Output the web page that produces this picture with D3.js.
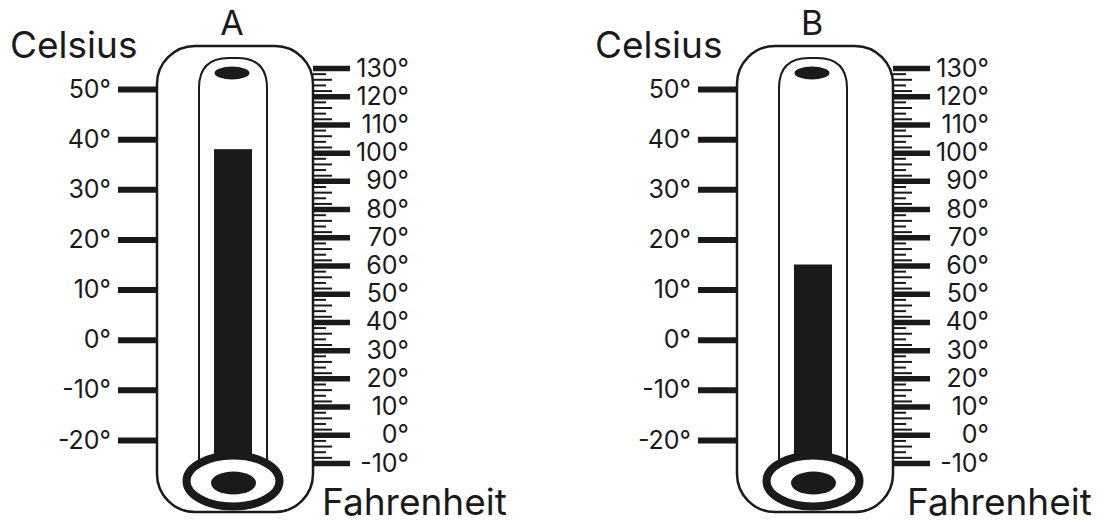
<!DOCTYPE html>
<html>
<head>
<meta charset="utf-8">
<script src="https://cdn.jsdelivr.net/npm/d3@7"></script>
<style>
  html, body { margin: 0; padding: 0; background: #fff; }
  svg { display: block; }
  text { font-family: Inter, "Noto Sans", sans-serif; fill: #1a1a1a; }
</style>
</head>
<body>
<script>
// ---- data ----
const thermometerNames = ["A", "B"];
const mercuryCelsius = [38, 15];
const celsiusTicks = [50, 40, 30, 20, 10, 0, -10, -20];
const fahrenheitTicks = [130, 120, 110, 100, 90, 80, 70, 60, 50, 40, 30, 20, 10, 0, -10];
const fahrenheitMinor = d3.range(-8, 130, 2).filter(v => v % 10 !== 0);
const celsiusTitle = "Celsius";
const fahrenheitTitle = "Fahrenheit";

// ---- layout ----
const W = 1099, H = 523;
const ink = "#1a1a1a";
const svg = d3.select("body").append("svg").attr("width", W).attr("height", H);

const yC = d3.scaleLinear().domain([-20, 50]).range([440, 89]);
const yF = d3.scaleLinear().domain([-10, 130]).range([463, 68]);

const panelX = d3.scaleOrdinal().domain(thermometerNames).range([0, 580]);
const titleShift = d3.scaleOrdinal().domain(thermometerNames).range([0, 5]);

const bodyL = 157, bodyR = 313, bodyT = 46, bodyB = 512;
const cx = 233;

thermometerNames.forEach((name, i) => {
  const g = svg.append("g").attr("transform", `translate(${panelX(name)},0)`);

  // titles
  g.append("text").attr("x", cx - 1).attr("y", 35).attr("text-anchor", "middle")
    .attr("font-size", 34).text(name);
  g.append("text").attr("x", 10 + titleShift(name)).attr("y", 58)
    .attr("font-size", 37).text(celsiusTitle);
  g.append("text").attr("x", 322 + titleShift(name)).attr("y", 515)
    .attr("font-size", 37).text(fahrenheitTitle);

  // outer body
  g.append("rect").attr("x", bodyL).attr("y", bodyT)
    .attr("width", bodyR - bodyL).attr("height", bodyB - bodyT)
    .attr("rx", 38).attr("ry", 38)
    .attr("fill", "#fff").attr("stroke", ink).attr("stroke-width", 2.5);

  // inner tube (open bottom)
  const tl = 199, tr = 267, tt = 58, tb = 470, r = 30;
  g.append("path")
    .attr("d", `M${tl},${tb} L${tl},${tt + r} Q${tl},${tt} ${tl + r},${tt} L${tr - r},${tt} Q${tr},${tt} ${tr},${tt + r} L${tr},${tb}`)
    .attr("fill", "none").attr("stroke", ink).attr("stroke-width", 2);

  // top ellipse
  g.append("ellipse").attr("cx", cx - 1).attr("cy", 73).attr("rx", 17.5).attr("ry", 6.5).attr("fill", ink);

  // mercury column
  const mTop = yC(mercuryCelsius[i]);
  g.append("rect").attr("x", 214).attr("y", mTop).attr("width", 38).attr("height", 475 - mTop).attr("fill", ink);

  // bulb ring
  g.append("ellipse").attr("cx", cx).attr("cy", 481).attr("rx", 46.5).attr("ry", 25.5)
    .attr("fill", "#fff").attr("stroke", ink).attr("stroke-width", 8);
  g.append("ellipse").attr("cx", cx + 0.5).attr("cy", 483).attr("rx", 22.5).attr("ry", 11.5).attr("fill", ink);

  // Celsius axis
  const cAxis = g.append("g").attr("transform", `translate(${bodyL},0)`)
    .call(d3.axisLeft(yC).tickValues(celsiusTicks).tickSize(39).tickPadding(7).tickFormat(d => d + "°"));
  cAxis.select(".domain").remove();
  cAxis.selectAll(".tick line").attr("stroke", ink).attr("stroke-width", 6);
  cAxis.selectAll(".tick text").attr("font-size", 25).attr("font-family", "Inter, sans-serif").attr("fill", ink);

  // Fahrenheit minor ticks
  const minorLen = v => { const k = ((v % 10) + 10) % 10; return (k === 2 || k === 6) ? 19 : 13; };
  const fMinor = g.append("g").attr("transform", `translate(${bodyR},0)`)
    .call(d3.axisRight(yF).tickValues(fahrenheitMinor).tickSize(0).tickFormat(""));
  fMinor.select(".domain").remove();
  fMinor.selectAll(".tick line").attr("x2", d => minorLen(d)).attr("stroke", ink).attr("stroke-width", 2);

  // Fahrenheit major axis
  const fAxis = g.append("g").attr("transform", `translate(${bodyR},0)`)
    .call(d3.axisRight(yF).tickValues(fahrenheitTicks).tickSize(37).tickPadding(0).tickFormat(d => d + "°"));
  fAxis.select(".domain").remove();
  fAxis.selectAll(".tick line").attr("stroke", ink).attr("stroke-width", 5.5);
  fAxis.selectAll(".tick text").attr("font-size", 25).attr("font-family", "Inter, sans-serif")
    .attr("fill", ink).attr("text-anchor", "end").attr("x", 96);
});
</script>
</body>
</html>
